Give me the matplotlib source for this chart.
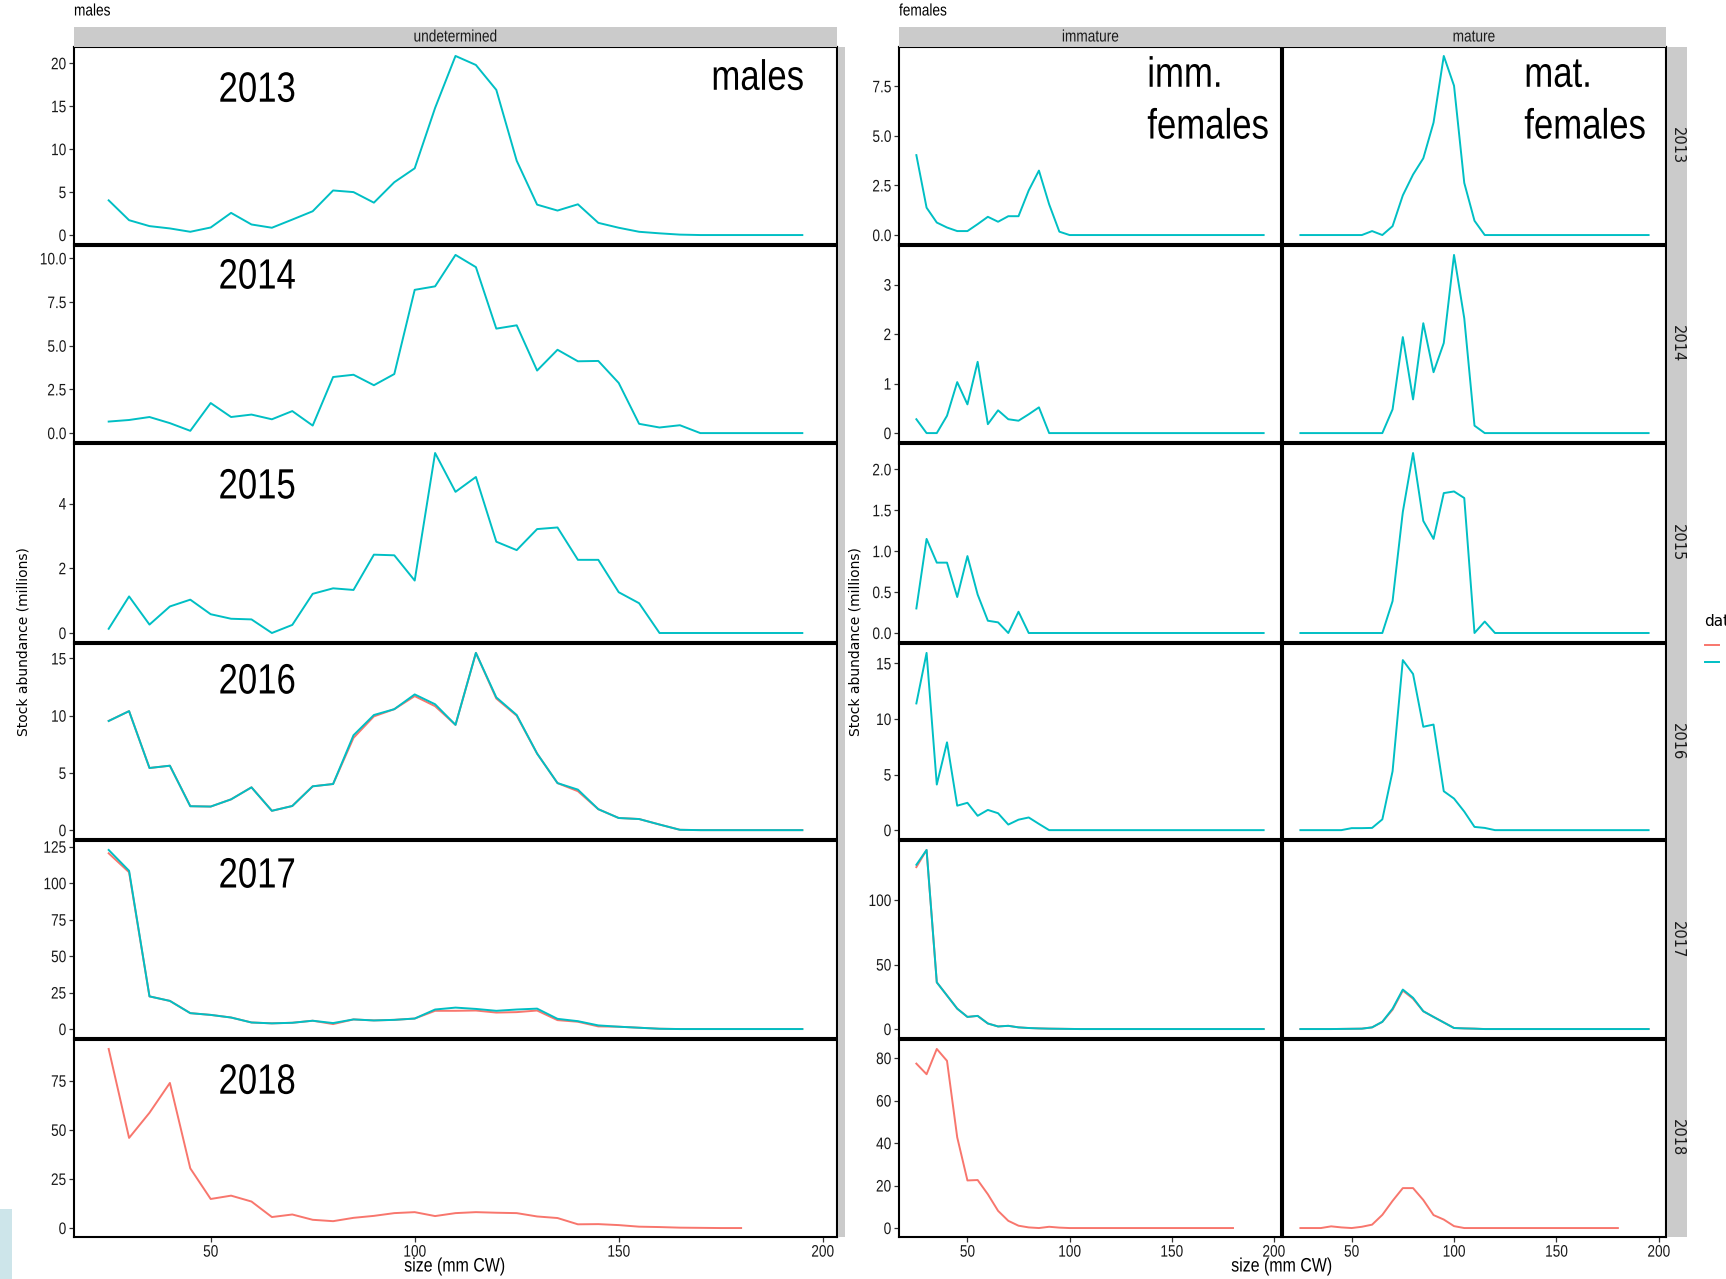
import matplotlib
matplotlib.use("Agg")
import matplotlib.pyplot as plt
from matplotlib.ticker import FixedLocator, FixedFormatter
from matplotlib.patheffects import AbstractPathEffect
from matplotlib.transforms import Affine2D

# ── Data: stock abundance (millions) by 5 mm carapace-width bin ──────────────
SIZES = [25, 30, 35, 40, 45, 50, 55, 60, 65, 70, 75, 80, 85, 90, 95, 100,
         105, 110, 115, 120, 125, 130, 135, 140, 145, 150, 155, 160, 165,
         170, 175, 180, 185, 190, 195]
YEARS = [2013, 2014, 2015, 2016, 2017, 2018]

# males, undetermined maturity
male_2013 = [4.04, 1.73, 1.04, 0.77, 0.38, 0.88, 2.58, 1.23, 0.85, 1.8, 2.77,
             5.19, 5.0, 3.77, 6.15, 7.77, 14.8, 20.85, 19.8, 16.9, 8.65, 3.54,
             2.85, 3.58, 1.42, 0.85, 0.38, 0.2, 0.05, 0, 0, 0, 0, 0, 0]
male_2014 = [0.66, 0.75, 0.92, 0.57, 0.13, 1.72, 0.92, 1.06, 0.79, 1.26, 0.43,
             3.21, 3.34, 2.74, 3.38, 8.2, 8.4, 10.2, 9.5, 5.98, 6.17, 3.58,
             4.77, 4.11, 4.13, 2.87, 0.53, 0.32, 0.45, 0, 0, 0, 0, 0, 0]
male_2015 = [0.13, 1.13, 0.26, 0.82, 1.03, 0.58, 0.44, 0.42, 0.0, 0.25, 1.21,
             1.38, 1.33, 2.42, 2.40, 1.62, 5.56, 4.36, 4.82, 2.82, 2.56, 3.21,
             3.26, 2.26, 2.26, 1.26, 0.92, 0, 0, 0, 0, 0, 0, 0, 0]
male_2016 = [9.54, 10.4, 5.43, 5.63, 2.09, 2.06, 2.69, 3.74, 1.69, 2.11, 3.83,
             4.03, 8.29, 10.06, 10.57, 11.86, 11.0, 9.2, 15.49, 11.6, 10.06,
             6.69, 4.11, 3.54, 1.83, 1.06, 0.97, 0.49, 0.03, 0, 0, 0, 0, 0, 0]
male_2016_b = [9.54, 10.4, 5.43, 5.63, 2.09, 2.06, 2.69, 3.74, 1.69, 2.11,
               3.83, 4.03, 8.06, 9.94, 10.57, 11.71, 10.83, 9.2, 15.49, 11.5,
               10.0, 6.69, 4.11, 3.4, 1.83, 1.06, 0.97, 0.49, 0.03, 0, 0, 0,
               0, 0, 0]
male_2017 = [122.8, 108.5, 22.4, 19.3, 10.9, 9.7, 7.9, 4.5, 3.9, 4.3, 5.7, 4.1,
             6.6, 5.9, 6.3, 7.2, 13.4, 14.7, 13.8, 12.5, 13.4, 14.0, 7.0, 5.4,
             2.5, 1.6, 0.9, 0.2, 0, 0, 0, 0, 0, 0, 0]
male_2017_b = [120.5, 107.5, 22.4, 19.3, 10.9, 9.7, 7.9, 4.5, 3.9, 4.3, 5.7,
               3.4, 6.6, 5.9, 6.3, 7.2, 12.5, 12.5, 12.7, 11.3, 11.6, 12.7,
               6.1, 5.0, 1.8, 1.6, 0.9, 0.2, 0, 0, 0, 0, 0, 0, 0]
male_2018_b = [91.2, 45.9, 58.7, 73.9, 30.4, 14.8, 16.5, 13.5, 5.6, 6.9, 4.2,
               3.5, 5.2, 6.2, 7.6, 8.1, 6.1, 7.6, 8.1, 7.8, 7.6, 5.9, 5.1, 1.9,
               2.0, 1.5, 0.7, 0.5, 0.2, 0.1, 0, 0]

# immature females
imm_2013 = [4.03, 1.38, 0.63, 0.38, 0.2, 0.2, 0.55, 0.92, 0.67, 0.95, 0.95,
            2.25, 3.25, 1.55, 0.17, 0, 0, 0, 0, 0, 0, 0, 0, 0, 0, 0, 0, 0, 0,
            0, 0, 0, 0, 0, 0]
imm_2014 = [0.28, 0, 0, 0.35, 1.03, 0.58, 1.44, 0.18, 0.46, 0.28, 0.25, 0.38,
            0.52, 0, 0, 0, 0, 0, 0, 0, 0, 0, 0, 0, 0, 0, 0, 0, 0, 0, 0, 0, 0,
            0, 0]
imm_2015 = [0.30, 1.15, 0.86, 0.86, 0.44, 0.94, 0.47, 0.15, 0.13, 0, 0.26, 0,
            0, 0, 0, 0, 0, 0, 0, 0, 0, 0, 0, 0, 0, 0, 0, 0, 0, 0, 0, 0, 0, 0, 0]
imm_2016 = [11.4, 15.95, 4.1, 7.9, 2.2, 2.46, 1.29, 1.82, 1.52, 0.5, 0.94,
            1.14, 0.56, 0, 0, 0, 0, 0, 0, 0, 0, 0, 0, 0, 0, 0, 0, 0, 0, 0, 0,
            0, 0, 0, 0]
imm_2017 = [127.3, 138.8, 36.2, 26.0, 15.8, 9.4, 10.2, 4.3, 2.0, 2.5, 1.3, 0.8,
            0.5, 0.3, 0.2, 0.1, 0, 0, 0, 0, 0, 0, 0, 0, 0, 0, 0, 0, 0, 0, 0, 0,
            0, 0, 0]
imm_2017_b = [125.5, 138.8, 36.2, 26.0, 15.8, 9.4, 10.2, 4.3, 2.0, 2.5, 1.3,
              0.8, 0.5, 0.3, 0.2, 0.1, 0, 0, 0, 0, 0, 0, 0, 0, 0, 0, 0, 0, 0,
              0, 0, 0, 0, 0, 0]
imm_2018_b = [77.4, 72.4, 84.3, 78.7, 42.7, 22.4, 22.6, 15.9, 8.1, 3.4, 1.1,
              0.3, 0, 0.6, 0.2, 0, 0, 0, 0, 0, 0, 0, 0, 0, 0, 0, 0, 0, 0, 0,
              0, 0]

# mature females
mat_2013 = [0, 0, 0, 0, 0, 0, 0, 0.2, 0, 0.45, 2.0, 3.05, 3.87, 5.67, 9.03,
            7.53, 2.63, 0.72, 0, 0, 0, 0, 0, 0, 0, 0, 0, 0, 0, 0, 0, 0, 0, 0, 0]
mat_2014 = [0, 0, 0, 0, 0, 0, 0, 0, 0, 0.48, 1.94, 0.68, 2.22, 1.23, 1.82, 3.6,
            2.32, 0.15, 0, 0, 0, 0, 0, 0, 0, 0, 0, 0, 0, 0, 0, 0, 0, 0, 0]
mat_2015 = [0, 0, 0, 0, 0, 0, 0, 0, 0, 0.39, 1.48, 2.2, 1.37, 1.15, 1.71, 1.73,
            1.65, 0, 0.14, 0, 0, 0, 0, 0, 0, 0, 0, 0, 0, 0, 0, 0, 0, 0, 0]
mat_2016 = [0, 0, 0, 0, 0, 0.18, 0.18, 0.2, 0.97, 5.3, 15.3, 14.05, 9.3, 9.5,
            3.5, 2.84, 1.67, 0.29, 0.2, 0, 0, 0, 0, 0, 0, 0, 0, 0, 0, 0, 0, 0,
            0, 0, 0]
mat_2017 = [0, 0, 0, 0, 0.1, 0.2, 0.3, 1.3, 5.6, 15.8, 30.6, 24.2, 13.8, 9.4,
            5.1, 0.8, 0.5, 0.3, 0, 0, 0, 0, 0, 0, 0, 0, 0, 0, 0, 0, 0, 0, 0, 0,
            0]
mat_2017_b = [0, 0, 0, 0, 0.1, 0.2, 0.3, 1.3, 5.6, 15.0, 29.8, 23.5, 13.8, 9.4,
              5.1, 0.8, 0.5, 0.3, 0, 0, 0, 0, 0, 0, 0, 0, 0, 0, 0, 0, 0, 0, 0,
              0, 0]
mat_2018_b = [0, 0, 0, 0.8, 0.3, 0, 0.6, 1.6, 6.2, 12.8, 18.8, 18.8, 13.2, 6.1,
              4.0, 0.9, 0, 0, 0, 0, 0, 0, 0, 0, 0, 0, 0, 0, 0, 0, 0, 0]

MALE_TICKS = [[0, 5, 10, 15, 20], [0, 2.5, 5, 7.5, 10], [0, 2, 4],
              [0, 5, 10, 15], [0, 25, 50, 75, 100, 125], [0, 25, 50, 75]]
FEMALE_TICKS = [[0, 2.5, 5, 7.5], [0, 1, 2, 3], [0, 0.5, 1, 1.5, 2],
                [0, 5, 10, 15], [0, 50, 100], [0, 20, 40, 60, 80]]
X_TICKS = [50, 100, 150, 200]

# ── Style ────────────────────────────────────────────────────────────────────
RED = "#F8766D"
TEAL = "#00BFC4"
STRIP_BG = "#CBCBCB"
WIDE = ["DejaVu Sans"]
W, H, DPI = 1726, 1279, 100
plt.rcParams["font.family"] = ["Liberation Sans", "DejaVu Sans"]

ROW_EDGES = [47, 245, 443, 643, 840, 1039, 1237]
MALE_X = (74, 837)
IMM_X = (899, 1281)
MAT_X = (1283, 1666)
XLIM = (16.5, 203.5)

# one entry per row: list of (colour, values), first source drawn underneath
male_rows = [
    [(TEAL, male_2013)], [(TEAL, male_2014)], [(TEAL, male_2015)],
    [(RED, male_2016_b), (TEAL, male_2016)],
    [(RED, male_2017_b), (TEAL, male_2017)],
    [(RED, male_2018_b)],
]
imm_rows = [
    [(TEAL, imm_2013)], [(TEAL, imm_2014)], [(TEAL, imm_2015)],
    [(TEAL, imm_2016)], [(RED, imm_2017_b), (TEAL, imm_2017)],
    [(RED, imm_2018_b)],
]
mat_rows = [
    [(TEAL, mat_2013)], [(TEAL, mat_2014)], [(TEAL, mat_2015)],
    [(TEAL, mat_2016)], [(RED, mat_2017_b), (TEAL, mat_2017)],
    [(RED, mat_2018_b)],
]


class Narrow(AbstractPathEffect):
    """Draw the glyphs squeezed horizontally about the text anchor."""

    def __init__(self, anchor="center", factor=0.82):
        super().__init__()
        self.anchor = anchor
        self.factor = factor

    def draw_path(self, renderer, gc, tpath, affine, rgbFace=None):
        ext = tpath.get_extents()
        x0 = {"left": 0.0, "center": (ext.x0 + ext.x1) / 2,
              "right": ext.x1}[self.anchor]
        squeeze = Affine2D().translate(-x0, 0).scale(self.factor, 1).translate(x0, 0)
        renderer.draw_path(gc, tpath, squeeze + affine, rgbFace)


def rect(x0, y0, x1, y1):
    return [x0 / W, 1 - y1 / H, (x1 - x0) / W, (y1 - y0) / H]


def fig_text(x, y, s, ha="center", **kw):
    fig.text(x / W, 1 - y / H, s, ha=ha, path_effects=[Narrow(ha)], **kw)


def tick_labels(ticks):
    if all(float(t).is_integer() for t in ticks):
        return [f"{int(t)}" for t in ticks]
    return [f"{t:.1f}" for t in ticks]


def row_limits(*series_lists):
    vals = [v for sl in series_lists for _, ys in sl for v in ys]
    lo, hi = min(vals), max(vals)
    pad = 0.05 * (hi - lo)
    return lo - pad, hi + pad


def panel(x_span, row, series, ylim, ticks, left_axis=True, bottom_axis=False):
    top = ROW_EDGES[row] + (1 if row > 0 else 0)
    bottom = ROW_EDGES[row + 1] - (1 if row < len(YEARS) - 1 else 0)
    ax = fig.add_axes(rect(x_span[0], top, x_span[1], bottom))
    for colour, ys in series:
        ax.plot(SIZES[:len(ys)], ys, color=colour, lw=1.4)
    ax.set_xlim(*XLIM)
    ax.set_ylim(*ylim)
    for sp in ax.spines.values():
        sp.set_color("black")
        sp.set_linewidth(1.5)
    ax.tick_params(direction="out", length=3.5, width=0.9, color="#333333",
                   labelsize=12, labelcolor="#1a1a1a", pad=2)
    if left_axis:
        ax.yaxis.set_major_locator(FixedLocator(ticks))
        ax.yaxis.set_major_formatter(FixedFormatter(tick_labels(ticks)))
        for lab in ax.get_yticklabels():
            lab.set_path_effects([Narrow("right")])
    else:
        ax.set_yticks([])
    if bottom_axis:
        ax.xaxis.set_major_locator(FixedLocator(X_TICKS))
        ax.xaxis.set_major_formatter(FixedFormatter([str(t) for t in X_TICKS]))
        for lab in ax.get_xticklabels():
            lab.set_path_effects([Narrow("center")])
    else:
        ax.set_xticks([])
    return ax


def strip(x0, y0, x1, y1, label=None, rotation=0, squeeze=True, size=12):
    ax = fig.add_axes(rect(x0, y0, x1, y1))
    ax.set_facecolor(STRIP_BG)
    ax.set_xticks([])
    ax.set_yticks([])
    for sp in ax.spines.values():
        sp.set_visible(False)
    if label:
        extra = dict(path_effects=[Narrow("center")]) if squeeze else dict(family=WIDE)
        ax.text(0.5, 0.5, label, transform=ax.transAxes, ha="center",
                va="center", rotation=rotation, size=size, color="#1a1a1a",
                **extra)
    return ax


def big_text(ax, x, y, s, ha):
    ax.text(x, y, s, transform=ax.transAxes, ha=ha, va="baseline",
            size=30.5, color="black", path_effects=[Narrow(ha)])


fig = plt.figure(figsize=(W / DPI, H / DPI), dpi=DPI)
fig.patch.set_facecolor("white")

# ── Panels ───────────────────────────────────────────────────────────────────
YEAR_BASELINE = [55, 43, 55, 50, 47, 54]     # px below panel top

for r, year in enumerate(YEARS):
    last = r == len(YEARS) - 1
    row_h = ROW_EDGES[r + 1] - ROW_EDGES[r]

    m_ax = panel(MALE_X, r, male_rows[r], row_limits(male_rows[r]),
                 MALE_TICKS[r], bottom_axis=last)
    big_text(m_ax, 0.240, 1 - YEAR_BASELINE[r] / row_h, str(year), "center")

    f_lim = row_limits(imm_rows[r], mat_rows[r])
    i_ax = panel(IMM_X, r, imm_rows[r], f_lim, FEMALE_TICKS[r], bottom_axis=last)
    a_ax = panel(MAT_X, r, mat_rows[r], f_lim, FEMALE_TICKS[r],
                 left_axis=False, bottom_axis=last)

    strip(MAT_X[1] + 1, ROW_EDGES[r], 1687, ROW_EDGES[r + 1], str(year),
          rotation=-90, squeeze=False, size=10.5)

    if r == 0:
        big_text(m_ax, 0.957, 1 - 43 / row_h, "males", "right")
        for ax, x, first in ((i_ax, 0.650, "imm."), (a_ax, 0.630, "mat.")):
            big_text(ax, x, 1 - 40 / row_h, first, "left")
            big_text(ax, x, 1 - 92 / row_h, "females", "left")

# ── Column strips and cropped edge strip ─────────────────────────────────────
strip(MALE_X[0], 27, MALE_X[1], 47, "undetermined")
strip(IMM_X[0], 27, 1282, 47, "immature")
strip(1282, 27, MAT_X[1], 47, "mature")
strip(838, 47, 845, 1237)
strip(0, 1209, 12, 1279).set_facecolor("#CDE5EA")

# ── Titles and axis labels ───────────────────────────────────────────────────
fig_text(74, 11, "males", ha="left", size=12, va="center")
fig_text(899, 11, "females", ha="left", size=12, va="center")
fig_text(455, 1267, "size (mm CW)", size=14, va="center")
fig_text(1282, 1267, "size (mm CW)", size=14, va="center")
for x in (24, 855):
    fig.text(x / W, 1 - 642 / H, "Stock abundance (millions)", family=WIDE,
             size=10, rotation=90, ha="center", va="center")

# ── Legend (partly outside the canvas) ───────────────────────────────────────
fig.text(1704 / W, 1 - 622 / H, "dat", family=WIDE, size=11, ha="left",
         va="center")
for y, colour in ((645, RED), (662, TEAL)):
    fig.add_artist(plt.Line2D([1705 / W, 1719 / W], [1 - y / H, 1 - y / H],
                              color=colour, lw=1.4, transform=fig.transFigure))

fig.savefig("out.png", dpi=DPI, facecolor="white")
